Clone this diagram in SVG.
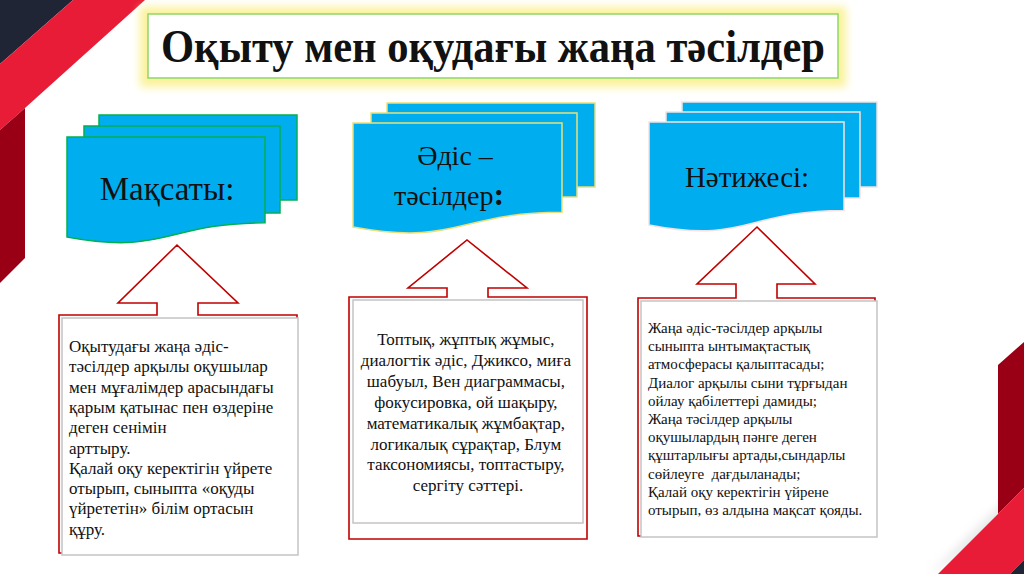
<svg xmlns="http://www.w3.org/2000/svg" width="1024" height="574" viewBox="0 0 1024 574">
<defs>
<style>
.serif{font-family:"Liberation Serif","DejaVu Serif","Times New Roman",serif;fill:#111}
.doc{fill:#00aeef}
.g1{stroke:#00b050;stroke-width:1.5}
.g2{stroke:#eadf7a;stroke-width:1.5}
.g3{stroke:#f2e2e2;stroke-width:1.5}
.callout{fill:#fff;stroke:#c00000;stroke-width:1.6;stroke-linejoin:miter}
.tbox{fill:#fff;stroke:#c4c4c4;stroke-width:1.5}
.body{font-size:17px}
.small{font-size:15px}
</style>
<filter id="glow" x="-10%" y="-30%" width="120%" height="160%">
<feGaussianBlur stdDeviation="4"/>
</filter>
<filter id="shadow" x="-20%" y="-20%" width="140%" height="140%">
<feGaussianBlur stdDeviation="5"/>
</filter>
</defs>
<rect width="1024" height="574" fill="#ffffff"/>
<g id="decor">
<polygon points="0,0 73,0 0,64" fill="#1f2535"/>
<polygon points="73,0 145,0 25,108 0,130 0,64" fill="#e81c36"/>
<polygon points="0,130 25,108 25,258 0,283" fill="#990016"/>
<polygon points="930,574 1024,482 1024,520" fill="#d8d8d8" filter="url(#shadow)" opacity="0.6"/>
<polygon points="998,365 1024,342 1024,488 998,514" fill="#990016"/>
<polygon points="938,574 1024,488 1024,560 1010,574" fill="#e81c36"/>
<polygon points="1010,574 1024,560 1024,574" fill="#1f2535"/>
</g>
<g id="title">
<rect x="140" y="7" width="706" height="80" fill="#faf29a" filter="url(#glow)"/>
<rect x="148" y="14" width="690" height="64" fill="#ffffff" stroke="#8fd66a" stroke-width="1.5"/>
<text class="serif" x="493" y="62" font-size="46" font-weight="bold" text-anchor="middle" textLength="664" lengthAdjust="spacingAndGlyphs">Оқыту мен оқудағы жаңа тәсілдер</text>
</g>
<g id="doc-maksaty">
<rect class="doc g1" x="99" y="115" width="198" height="85"/>
<rect class="doc g1" x="84" y="126" width="196" height="87"/>
<path class="doc g1" d="M67,137 H265 V222.8 C166,222.8 166,255.5 67,237 Z"/>
<text class="serif" x="167" y="200" font-size="33" text-anchor="middle">Мақсаты:</text>
</g>
<g id="doc-adis">
<rect class="doc g2" x="387" y="103" width="208" height="84"/>
<rect class="doc g2" x="371" y="113" width="206" height="84"/>
<path class="doc g2" d="M353,123 H562 V212.3 C457.5,212.3 457.5,246.3 353,227 Z"/>
<text class="serif" x="455" y="165" font-size="28" text-anchor="middle">Әдіс –</text>
<text class="serif" x="449" y="205" font-size="28" text-anchor="middle">тәсілдер<tspan font-weight="bold" font-size="32">:</tspan></text>
</g>
<g id="doc-natijesi">
<rect class="doc g3" x="682" y="102" width="195" height="85"/>
<rect class="doc g3" x="666" y="112" width="194" height="86"/>
<path class="doc g3" d="M649,122 H844 V210.4 C746.5,210.4 746.5,244.1 649,225 Z"/>
<text class="serif" x="747" y="187" font-size="29" text-anchor="middle">Нәтижесі:</text>
</g>
<g id="connectors">
<path class="callout" d="M59,315 H157 V303 H118 L177,245 L238,303 H198 V315 H297 V553 H59 Z"/>
<path class="callout" d="M349,297 H447 V288 H408 L467,240 L527,288 H488 V297 H587 V539 H349 Z"/>
<path class="callout" d="M638,298 H736 V284 H697 L757,227 L815,284 H777 V298 H875 V536 H638 Z"/>
</g>
<g id="box-maksaty">
<rect class="tbox" x="62" y="318" width="236" height="237"/>
<text class="serif body" x="69" y="352">
<tspan x="69" y="352">Оқытудағы жаңа әдіс-</tspan>
<tspan x="69" y="372.3">тәсілдер арқылы оқушылар</tspan>
<tspan x="69" y="392.6">мен мұғалімдер арасындағы</tspan>
<tspan x="69" y="412.9">қарым қатынас пен өздеріне</tspan>
<tspan x="69" y="433.2">деген сенімін</tspan>
<tspan x="69" y="453.5">арттыру.</tspan>
<tspan x="69" y="473.8">Қалай оқу керектігін үйрете</tspan>
<tspan x="69" y="494.1">отырып, сыныпта «оқуды</tspan>
<tspan x="69" y="514.4">үйрететін» білім ортасын</tspan>
<tspan x="69" y="534.7">құру.</tspan>
</text>
</g>
<g id="box-adis">
<rect class="tbox" x="353" y="300" width="230" height="223"/>
<text class="serif body" text-anchor="middle">
<tspan x="468" y="345">Топтық, жұптық жұмыс,</tspan>
<tspan x="468" y="365.9">диалогтік әдіс, Джиксо, миға</tspan>
<tspan x="468" y="386.8">шабуыл, Вен диаграммасы,</tspan>
<tspan x="468" y="407.7">фокусировка, ой шақыру,</tspan>
<tspan x="468" y="428.6">математикалық жұмбақтар,</tspan>
<tspan x="468" y="449.5">логикалық сұрақтар, Блум</tspan>
<tspan x="468" y="470.4">таксономиясы, топтастыру,</tspan>
<tspan x="468" y="491.3">сергіту сәттері.</tspan>
</text>
</g>
<g id="box-natijesi">
<rect class="tbox" x="641" y="301" width="236" height="236"/>
<text class="serif small">
<tspan x="648" y="333">Жаңа әдіс-тәсілдер арқылы</tspan>
<tspan x="648" y="351.2">сыныпта ынтымақтастық</tspan>
<tspan x="648" y="369.4">атмосферасы қалыптасады;</tspan>
<tspan x="648" y="387.6">Диалог арқылы сыни тұрғыдан</tspan>
<tspan x="648" y="405.8">ойлау қабілеттері дамиды;</tspan>
<tspan x="648" y="424">Жаңа тәсілдер арқылы</tspan>
<tspan x="648" y="442.2">оқушылардың пәнге деген</tspan>
<tspan x="648" y="460.4">құштарлығы артады,сындарлы</tspan>
<tspan x="648" y="478.6">сөйлеуге &#160;дағдыланады;</tspan>
<tspan x="648" y="496.8">Қалай оқу керектігін үйрене</tspan>
<tspan x="648" y="515">отырып, өз алдына мақсат қояды.</tspan>
</text>
</g>
</svg>
